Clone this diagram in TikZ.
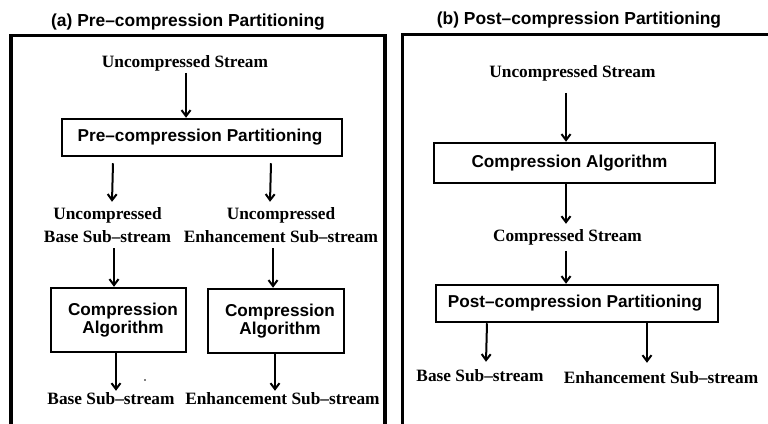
\documentclass[tikz,border=0pt]{standalone}
\usepackage{fontspec}
\setmainfont{Liberation Serif}
\newfontfamily\helv{Liberation Sans}
\usetikzlibrary{arrows.meta}
\begin{document}
\begin{tikzpicture}[x=1pt,y=-1pt,
  lbl/.style={font=\fontsize{17.3}{23}\selectfont\bfseries, align=center, inner sep=0pt},
  box/.style={draw, line width=2.5pt, font=\helv\fontsize{17.2}{18.5}\selectfont\bfseries, align=center, inner sep=0pt},
  ttl/.style={font=\helv\fontsize{17.4}{20}\selectfont\bfseries, inner sep=0pt},
  frame/.style={line width=3.5pt},
  arr/.style={line width=2pt, -{Straight Barb[length=6pt,width=9pt]}},
]
\useasboundingbox (0,0) rectangle (768,423);

% ---------- (a) ----------
\node[ttl, anchor=base] (ta) at (188,26) {(a) Pre–compression Partitioning};
\draw[frame] (11,425) -- (11,35.5) -- (385,35.5) -- (385,425);

\node[lbl, anchor=base] (aus) at (185,67) {Uncompressed Stream};
\node[box, minimum width=280, minimum height=37] (app) at (202,137.5) {\hspace*{-4pt}Pre–compression Partitioning};

\node[lbl, anchor=base] (aub) at (107.5,242) {Uncompressed\\Base Sub–stream};
\node[lbl, anchor=base] (aue) at (281,242) {Uncompressed\\Enhancement Sub–stream};

\node[box, minimum width=135, minimum height=64] (aca1) at (118.5,320) {\hspace*{9pt}Compression\\\hspace*{9pt}Algorithm};
\node[box, minimum width=136, minimum height=64] (aca2) at (276,321) {\hspace*{8pt}Compression\\\hspace*{8pt}Algorithm};

\node[lbl, anchor=base] (abs) at (111,404) {Base Sub–stream};
\node[lbl, anchor=base] (aes) at (282.5,404) {Enhancement Sub–stream};
\fill (145,380) circle (0.8);

\draw[arr] ([yshift=-2pt]aus.south -| 186,0) -- (app.north -| 186,0);
\draw[arr] ([yshift=-6pt]app.south -| 113,0) -- ([yshift=5pt]aub.north -| 112,0);
\draw[arr] ([yshift=-6pt]app.south -| 271,0) -- ([yshift=5pt]aue.north -| 270,0);
\draw[arr] ([yshift=-6pt]aub.south -| 114,0) -- (aca1.north -| 114,0);
\draw[arr] ([yshift=-6pt]aue.south -| 273,0) -- (aca2.north -| 273,0);
\draw[arr] (aca1.south -| 116,0) -- ([yshift=1pt]abs.north -| 116,0);
\draw[arr] (aca2.south -| 275,0) -- ([yshift=1pt]aes.north -| 275,0);

% ---------- (b) ----------
\node[ttl, anchor=base] (tb) at (579,24) {(b) Post–compression Partitioning};
\draw[frame] (402.5,425) -- (402.5,34.5) -- (772,34.5);

\node[lbl, anchor=base] (bus) at (572.5,77) {Uncompressed Stream};
\node[box, minimum width=281, minimum height=40] (bca) at (574.5,163) {\hspace*{-10pt}Compression Algorithm};
\node[lbl, anchor=base] (bcs) at (567.5,241) {Compressed Stream};
\node[box, minimum width=282, minimum height=37] (bpp) at (577,303.5) {\hspace*{-4pt}Post–compression Partitioning};
\node[lbl, anchor=base] (bbs) at (480,381) {Base Sub–stream};
\node[lbl, anchor=base] (bes) at (661,383) {Enhancement Sub–stream};

\draw[arr] ([yshift=-12pt]bus.south -| 566,0) -- (bca.north -| 566,0);
\draw[arr] (bca.south -| 566,0) -- ([yshift=5pt]bcs.north -| 566,0);
\draw[arr] ([yshift=-6pt]bcs.south -| 566,0) -- (bpp.north -| 566,0);
\draw[arr] (bpp.south -| 487,0) -- ([yshift=7pt]bbs.north -| 486,0);
\draw[arr] (bpp.south -| 647,0) -- ([yshift=8pt]bes.north -| 647,0);
\end{tikzpicture}
\end{document}
